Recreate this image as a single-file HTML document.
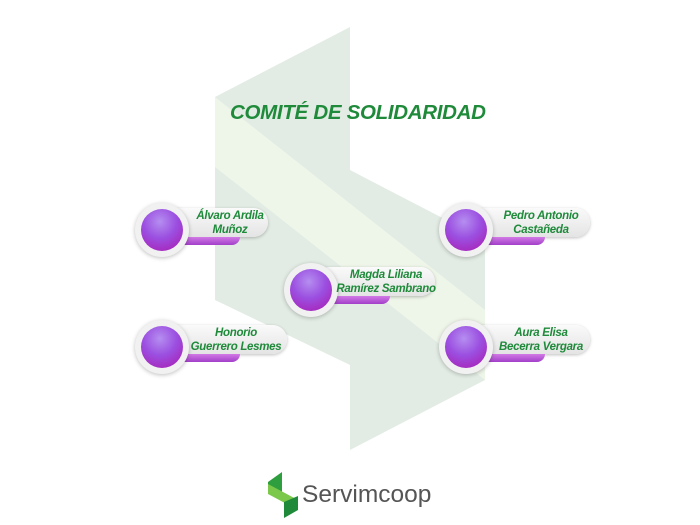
<!DOCTYPE html>
<html><head><meta charset="utf-8"><style>
body{margin:0;width:700px;height:525px;background:#fff;position:relative;overflow:hidden;font-family:"Liberation Sans",sans-serif}
.pill{position:absolute;height:29px;border-radius:15px;background:linear-gradient(#fafafa,#e4e4e4);box-shadow:0 1px 3px rgba(0,0,0,.25)}
.bar{position:absolute;height:8px;border-radius:0 0 8px 0;background:linear-gradient(#d27ae6,#a23fc8)}
.ring{position:absolute;width:54px;height:54px;border-radius:50%;background:#f1f1f1;box-shadow:0 1px 4px rgba(0,0,0,.25)}
.ball{position:absolute;left:6px;top:6px;width:42px;height:42px;border-radius:50%;background:radial-gradient(circle at 45% 30%,#b58ef0 0%,#9b4fe0 45%,#a62bc0 80%,#8a1fa0 100%)}
.txt{position:absolute;font-style:italic;font-weight:bold;font-size:11.5px;line-height:14px;color:#1e8a3a;text-align:center;white-space:nowrap;letter-spacing:-0.3px}
</style></head><body>
<svg width="700" height="525" style="position:absolute;left:0;top:0">
<polygon points="215,97 350,27 350,365 215,300" fill="#e2ece4"/>
<polygon points="350,170 485,240 485,380 350,450" fill="#e2ece4"/>
<polygon points="215,97 485,310 485,380 215,167" fill="#eef5e9"/>
</svg>
<div style="position:absolute;left:230px;top:101px;font-size:20.5px;font-weight:bold;font-style:italic;color:#1f8a3a;letter-spacing:-0.3px">COMITÉ DE SOLIDARIDAD</div>

<div class="pill" style="left:165px;top:208px;width:103px"></div><div class="bar" style="left:170px;top:237px;width:70px"></div>
<div class="ring" style="left:135px;top:203px"><div class="ball"></div></div>
<div class="txt" style="left:180px;top:209px;width:100px">Álvaro Ardila<br>Muñoz</div>

<div class="pill" style="left:470px;top:208px;width:120px"></div><div class="bar" style="left:475px;top:237px;width:70px"></div>
<div class="ring" style="left:439px;top:203px"><div class="ball"></div></div>
<div class="txt" style="left:491px;top:209px;width:100px">Pedro Antonio<br>Castañeda</div>

<div class="pill" style="left:315px;top:267px;width:120px"></div><div class="bar" style="left:320px;top:296px;width:70px"></div>
<div class="ring" style="left:284px;top:263px"><div class="ball"></div></div>
<div class="txt" style="left:336px;top:268px;width:100px">Magda Liliana<br>Ramírez Sambrano</div>

<div class="pill" style="left:165px;top:325px;width:122px"></div><div class="bar" style="left:170px;top:354px;width:70px"></div>
<div class="ring" style="left:135px;top:320px"><div class="ball"></div></div>
<div class="txt" style="left:186px;top:326px;width:100px">Honorio<br>Guerrero Lesmes</div>

<div class="pill" style="left:470px;top:325px;width:120px"></div><div class="bar" style="left:475px;top:354px;width:70px"></div>
<div class="ring" style="left:439px;top:320px"><div class="ball"></div></div>
<div class="txt" style="left:491px;top:326px;width:100px">Aura Elisa<br>Becerra Vergara</div>

<svg width="40" height="52" style="position:absolute;left:266px;top:470px">
<polygon points="2,12 16,2 16,30 2,22" fill="#2e9e3e"/>
<polygon points="2,14 32,30 32,40 2,24" fill="#7cc84a"/>
<polygon points="18,32 32,26 32,40 18,48" fill="#1f8a3a"/>
</svg>
<div style="position:absolute;left:302px;top:481px;font-size:24.5px;color:#555;">Servimcoop</div>
</body></html>
